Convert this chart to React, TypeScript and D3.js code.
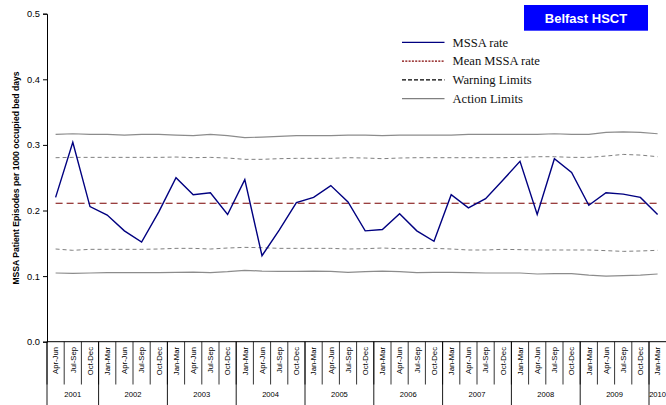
import React, { useRef, useEffect } from "react";
import * as d3 from "d3";

// quarters from Apr-Jun 2001 to Jan-Mar 2010
const quarters = [
  "Apr-Jun", "Jul-Sep", "Oct-Dec",
  "Jan-Mar", "Apr-Jun", "Jul-Sep", "Oct-Dec",
  "Jan-Mar", "Apr-Jun", "Jul-Sep", "Oct-Dec",
  "Jan-Mar", "Apr-Jun", "Jul-Sep", "Oct-Dec",
  "Jan-Mar", "Apr-Jun", "Jul-Sep", "Oct-Dec",
  "Jan-Mar", "Apr-Jun", "Jul-Sep", "Oct-Dec",
  "Jan-Mar", "Apr-Jun", "Jul-Sep", "Oct-Dec",
  "Jan-Mar", "Apr-Jun", "Jul-Sep", "Oct-Dec",
  "Jan-Mar", "Apr-Jun", "Jul-Sep", "Oct-Dec",
  "Jan-Mar",
];
const years = ["2001", "2002", "2003", "2004", "2005", "2006", "2007", "2008", "2009", "2010"];
const quartersPerYear = [3, 4, 4, 4, 4, 4, 4, 4, 4, 1];

const mssaRate = [
  0.22, 0.304, 0.206, 0.193, 0.169, 0.152, 0.198, 0.25, 0.224, 0.227, 0.194, 0.247,
  0.131, 0.17, 0.212, 0.22, 0.238, 0.213, 0.169, 0.171, 0.195, 0.169, 0.153, 0.224,
  0.204, 0.218, 0.246, 0.275, 0.194, 0.279, 0.258, 0.208, 0.227, 0.225, 0.22, 0.194,
];
const meanRate = 0.211;
const upperAction = [
  0.316, 0.317, 0.316, 0.316, 0.315, 0.316, 0.316, 0.315, 0.314, 0.316, 0.314, 0.311,
  0.312, 0.313, 0.314, 0.314, 0.314, 0.315, 0.315, 0.314, 0.315, 0.315, 0.315, 0.315,
  0.316, 0.316, 0.316, 0.316, 0.316, 0.317, 0.316, 0.316, 0.319, 0.32, 0.319, 0.317,
];
const upperWarning = [
  0.2805, 0.281, 0.281, 0.281, 0.281, 0.281, 0.281, 0.2815, 0.2805, 0.281, 0.28, 0.278,
  0.278, 0.279, 0.2795, 0.2795, 0.2795, 0.2805, 0.28, 0.279, 0.28, 0.2805, 0.2805, 0.2805,
  0.2805, 0.2805, 0.2805, 0.281, 0.282, 0.282, 0.281, 0.281, 0.283, 0.2855, 0.2845, 0.282,
];
const lowerWarning = [
  0.1413, 0.1393, 0.1408, 0.1408, 0.1408, 0.1408, 0.1413, 0.1423, 0.1423, 0.1413, 0.1428, 0.1438,
  0.1433, 0.1423, 0.1423, 0.1423, 0.1423, 0.1413, 0.1418, 0.1428, 0.1418, 0.1418, 0.1423, 0.1413,
  0.1398, 0.1398, 0.1408, 0.1403, 0.1398, 0.1398, 0.1398, 0.1398, 0.1388, 0.1377, 0.1383, 0.1393,
];
const lowerAction = [
  0.1047, 0.1042, 0.1047, 0.1052, 0.1052, 0.1052, 0.1052, 0.1057, 0.1062, 0.1052, 0.1067, 0.1088,
  0.1077, 0.1072, 0.1072, 0.1077, 0.1072, 0.1057, 0.1067, 0.1077, 0.1067, 0.1052, 0.1057, 0.1057,
  0.1052, 0.1047, 0.1047, 0.1047, 0.1032, 0.1037, 0.1037, 0.1016, 0.1001, 0.1006, 0.1016, 0.1032,
];
const yTicks = [0, 0.1, 0.2, 0.3, 0.4, 0.5];

const legendItems = [
  { label: "MSSA rate", color: "#000080", dash: null },
  { label: "Mean MSSA rate", color: "#800000", dash: "2,1.3" },
  { label: "Warning Limits", color: "#000", dash: "4,2" },
  { label: "Action Limits", color: "#808080", dash: null },
];

const W = 666;
const H = 405;
const SANS = "Arial, 'Liberation Sans', sans-serif";
const SERIF = "'Times New Roman', 'Liberation Serif', serif";

export default function App() {
  const ref = useRef<SVGSVGElement | null>(null);

  useEffect(() => {
    if (!ref.current) return;
    const svg = d3.select(ref.current);
    svg.selectAll("*").remove();

    const left = 47;
    const right = 666.2;
    const top = 13.7;
    const bottom = 341.7;

    const x = d3
      .scaleBand<number>()
      .domain(quarters.map((_, i) => i))
      .range([left, right]);
    const y = d3.scaleLinear().domain([0, 0.5]).range([bottom, top]);
    const cx = (i: number) => x(i)! + x.bandwidth() / 2;

    const g = svg.append("g");

    const line = d3
      .line<number>()
      .x((_, i) => cx(i))
      .y((d) => y(d));

    // action limits
    [upperAction, lowerAction].forEach((arr) => {
      g.append("path")
        .attr("d", line(arr))
        .attr("fill", "none")
        .attr("stroke", "#8c8c8c")
        .attr("stroke-width", 1.2);
    });
    // warning limits
    [upperWarning, lowerWarning].forEach((arr) => {
      g.append("path")
        .attr("d", line(arr))
        .attr("fill", "none")
        .attr("stroke", "#808080")
        .attr("stroke-width", 1)
        .attr("stroke-dasharray", "4,3");
    });

    // mean
    g.append("path")
      .attr("d", line(mssaRate.map(() => meanRate)))
      .attr("fill", "none")
      .attr("stroke", "#7a0000")
      .attr("stroke-width", 1.1)
      .attr("stroke-dasharray", "7,4");

    // rate
    g.append("path")
      .attr("d", line(mssaRate))
      .attr("fill", "none")
      .attr("stroke", "#000080")
      .attr("stroke-width", 1.4);

    // y axis
    const yAxis = g
      .append("g")
      .attr("transform", `translate(${left},0)`)
      .call(
        d3
          .axisLeft(y)
          .tickValues(yTicks)
          .tickSize(4)
          .tickFormat(d3.format(".1f"))
      );
    yAxis.select(".domain").attr("stroke", "#000").attr("stroke-width", 1);
    yAxis.selectAll("line").attr("stroke", "#000");
    yAxis
      .selectAll("text")
      .attr("font-family", SANS)
      .attr("font-size", 9.3)
      .attr("fill", "#000")
      .attr("x", -7);

    svg
      .append("text")
      .attr("transform", `translate(19,178) rotate(-90)`)
      .attr("text-anchor", "middle")
      .attr("font-family", SANS)
      .attr("font-weight", "bold")
      .attr("font-size", 8.6)
      .text("MSSA Patient Episodes per 1000 occupied bed days");

    // x axis line
    g.append("line")
      .attr("x1", left)
      .attr("x2", right)
      .attr("y1", bottom)
      .attr("y2", bottom)
      .attr("stroke", "#000");

    // quarter separators and labels
    quarters.forEach((q, i) => {
      g.append("line")
        .attr("x1", x(i)!)
        .attr("x2", x(i)!)
        .attr("y1", bottom)
        .attr("y2", 384.5)
        .attr("stroke", "#000")
        .attr("stroke-width", 0.8);
      g.append("text")
        .attr("transform", `translate(${cx(i)},347) rotate(-90)`)
        .attr("text-anchor", "end")
        .attr("dy", "0.35em")
        .attr("font-family", SANS)
        .attr("font-size", 7.7)
        .attr("fill", "#000")
        .text(q);
    });

    // year separators and labels
    let start = 0;
    quartersPerYear.forEach((n, k) => {
      const x0 = x(start)!;
      const x1 = x0 + n * x.bandwidth();
      g.append("line")
        .attr("x1", x0)
        .attr("x2", x0)
        .attr("y1", bottom)
        .attr("y2", H)
        .attr("stroke", "#000")
        .attr("stroke-width", 0.9);
      g.append("text")
        .attr("x", (x0 + x1) / 2)
        .attr("y", 396.5)
        .attr("text-anchor", "middle")
        .attr("font-family", SANS)
        .attr("font-size", 7.6)
        .attr("fill", "#000")
        .text(years[k]);
      start += n;
    });

    // legend
    const lg = svg.append("g").attr("transform", "translate(402,0)");
    legendItems.forEach((item, i) => {
      const ly = 42.3 + i * 18.8;
      const ln = lg
        .append("line")
        .attr("x1", 0)
        .attr("x2", 42.5)
        .attr("y1", ly)
        .attr("y2", ly)
        .attr("stroke", item.color)
        .attr("stroke-width", 1.3);
      if (item.dash) ln.attr("stroke-dasharray", item.dash);
      lg.append("text")
        .attr("x", 50.5)
        .attr("y", ly + 4.3)
        .attr("font-family", SERIF)
        .attr("font-size", 12.6)
        .attr("fill", "#111")
        .text(item.label);
    });

    // title box
    svg
      .append("rect")
      .attr("x", 524)
      .attr("y", 5)
      .attr("width", 124)
      .attr("height", 25.7)
      .attr("fill", "#0000ff");
    svg
      .append("text")
      .attr("x", 586)
      .attr("y", 22.6)
      .attr("text-anchor", "middle")
      .attr("font-family", SANS)
      .attr("font-weight", "bold")
      .attr("font-size", 13)
      .attr("fill", "#fff")
      .text("Belfast HSCT");
  }, []);

  return (
    <svg
      ref={ref}
      width={W}
      height={H}
      style={{ position: "absolute", left: 0, top: 0, background: "#fff" }}
    />
  );
}
